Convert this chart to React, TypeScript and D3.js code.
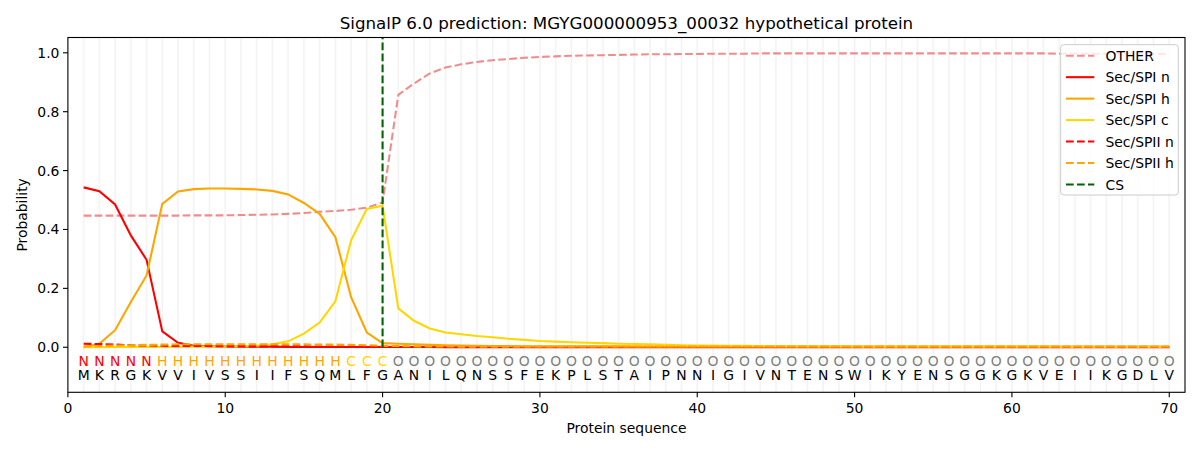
import * as d3 from 'd3';

const title = 'SignalP 6.0 prediction: MGYG000000953_00032 hypothetical protein';
const sequence = 'MKRGKVVIVSSIIFSQMLFGANILQNSSFEKPLSTAIPNNIGIVNTENSWIKYENSGGKGKVEIIKGDLV'.split('');
const regionLabels = 'NNNNNHHHHHHHHHHHHCCCOOOOOOOOOOOOOOOOOOOOOOOOOOOOOOOOOOOOOOOOOOOOOOOOOO'.split('');
const xTicks = [0, 10, 20, 30, 40, 50, 60, 70];
const yTicks = [0, 0.2, 0.4, 0.6, 0.8, 1.0];
const csPosition = 20;

const other = [
  0.447, 0.447, 0.447, 0.447, 0.447, 0.447, 0.447, 0.448, 0.448, 0.448,
  0.449, 0.450, 0.451, 0.453, 0.456, 0.460, 0.463, 0.467, 0.474, 0.492,
  0.857, 0.896, 0.930, 0.950, 0.961, 0.969, 0.975, 0.979, 0.983, 0.986,
  0.988, 0.990, 0.991, 0.992, 0.993, 0.994, 0.995, 0.995, 0.996, 0.996,
  0.997, 0.997, 0.997, 0.998, 0.998, 0.998, 0.998, 0.998, 0.998, 0.998,
  0.998, 0.998, 0.998, 0.998, 0.998, 0.998, 0.998, 0.998, 0.998, 0.998,
  0.998, 0.998, 0.997, 0.997, 0.997, 0.997, 0.997, 0.997, 0.996, 0.996,
];
const spiN = [
  0.543, 0.530, 0.485, 0.380, 0.297, 0.054, 0.015, 0.005, 0.003, 0.002,
  0.002, 0.002, 0.002, 0.001, 0.001, 0.001, 0.001, 0.001, 0.001, 0.001,
  0.001, 0.001, 0.001, 0.000, 0.000, 0.000, 0.000, 0.000, 0.000, 0.000,
  0.000, 0.000, 0.000, 0.000, 0.000, 0.000, 0.000, 0.000, 0.000, 0.000,
  0.000, 0.000, 0.000, 0.000, 0.000, 0.000, 0.000, 0.000, 0.000, 0.000,
  0.000, 0.000, 0.000, 0.000, 0.000, 0.000, 0.000, 0.000, 0.000, 0.000,
  0.000, 0.000, 0.000, 0.000, 0.000, 0.000, 0.000, 0.000, 0.000, 0.000,
];
const spiH = [
  0.000, 0.012, 0.058, 0.154, 0.244, 0.487, 0.529, 0.537, 0.539, 0.539,
  0.538, 0.536, 0.531, 0.519, 0.490, 0.453, 0.374, 0.170, 0.050, 0.014,
  0.012, 0.010, 0.008, 0.007, 0.006, 0.005, 0.004, 0.004, 0.003, 0.003,
  0.003, 0.003, 0.003, 0.003, 0.003, 0.002, 0.002, 0.002, 0.002, 0.002,
  0.002, 0.002, 0.002, 0.002, 0.002, 0.002, 0.002, 0.002, 0.002, 0.002,
  0.002, 0.002, 0.002, 0.002, 0.002, 0.002, 0.002, 0.002, 0.002, 0.002,
  0.002, 0.002, 0.002, 0.002, 0.002, 0.002, 0.002, 0.002, 0.002, 0.002,
];
const spiC = [
  0.000, 0.000, 0.001, 0.001, 0.001, 0.001, 0.001, 0.002, 0.002, 0.002,
  0.003, 0.005, 0.010, 0.020, 0.046, 0.084, 0.156, 0.363, 0.470, 0.481,
  0.132, 0.090, 0.064, 0.050, 0.044, 0.038, 0.034, 0.029, 0.025, 0.021,
  0.019, 0.017, 0.015, 0.014, 0.012, 0.011, 0.010, 0.008, 0.007, 0.006,
  0.006, 0.005, 0.005, 0.004, 0.004, 0.003, 0.003, 0.003, 0.003, 0.002,
  0.002, 0.002, 0.002, 0.002, 0.002, 0.002, 0.002, 0.002, 0.002, 0.002,
  0.002, 0.002, 0.001, 0.001, 0.001, 0.001, 0.001, 0.001, 0.001, 0.001,
];
const spiiN = [
  0.012, 0.011, 0.009, 0.007, 0.006, 0.005, 0.004, 0.004, 0.004, 0.003,
  0.003, 0.003, 0.003, 0.003, 0.003, 0.002, 0.002, 0.002, 0.002, 0.002,
  0.001, 0.001, 0.001, 0.001, 0.001, 0.001, 0.001, 0.001, 0.001, 0.001,
  0.001, 0.001, 0.001, 0.001, 0.001, 0.001, 0.001, 0.001, 0.001, 0.001,
  0.001, 0.001, 0.001, 0.001, 0.001, 0.001, 0.001, 0.001, 0.001, 0.001,
  0.001, 0.001, 0.001, 0.001, 0.001, 0.001, 0.001, 0.001, 0.001, 0.001,
  0.001, 0.001, 0.001, 0.001, 0.001, 0.001, 0.001, 0.001, 0.001, 0.001,
];
const spiiH = [
  0.003, 0.004, 0.006, 0.007, 0.008, 0.009, 0.010, 0.010, 0.010, 0.010,
  0.010, 0.010, 0.010, 0.010, 0.010, 0.009, 0.009, 0.008, 0.007, 0.005,
  0.004, 0.003, 0.003, 0.003, 0.002, 0.002, 0.002, 0.002, 0.002, 0.002,
  0.002, 0.002, 0.002, 0.002, 0.002, 0.002, 0.002, 0.002, 0.002, 0.002,
  0.002, 0.002, 0.002, 0.002, 0.002, 0.002, 0.002, 0.002, 0.002, 0.002,
  0.002, 0.002, 0.002, 0.002, 0.002, 0.002, 0.002, 0.002, 0.002, 0.002,
  0.002, 0.002, 0.002, 0.002, 0.002, 0.002, 0.002, 0.002, 0.002, 0.002,
];

type Series = { name: string; values: number[]; color: string; dashed: boolean; opacity?: number };

const series: Series[] = [
  { name: 'OTHER', values: other, color: '#f08080', dashed: true, opacity: 0.9 },
  { name: 'Sec/SPI n', values: spiN, color: '#ff0000', dashed: false },
  { name: 'Sec/SPI h', values: spiH, color: '#ffa500', dashed: false },
  { name: 'Sec/SPI c', values: spiC, color: '#ffd700', dashed: false },
  { name: 'Sec/SPII n', values: spiiN, color: '#ff0000', dashed: true },
  { name: 'Sec/SPII h', values: spiiH, color: '#ffa500', dashed: true },
];

const labelColor: Record<string, string> = {
  N: '#ff0000',
  H: '#ffa500',
  C: '#ffd700',
  O: '#808080',
};

const font = '"DejaVu Sans", sans-serif';
const lw = 2.08;
const dash = '7.7,3.3';

export default function App() {
  const width = 1200;
  const height = 450;
  const left = 67.9;
  const right = 1185;
  const top = 37.5;
  const bottom = 392.3;

  const x = d3.scaleLinear().domain([0, 71]).range([left, right]);
  const y = d3.scaleLinear().domain([-0.153, 1.052]).range([bottom, top]);
  const positions = sequence.map((_, i) => i + 1);

  const line = d3
    .line<number>()
    .x((_, i) => x(positions[i]))
    .y((d) => y(d));

  const legendItems = [...series, { name: 'CS', color: '#006400', dashed: true } as Series];

  return (
    <svg
      width={width}
      height={height}
      style={{ position: 'absolute', left: 0, top: 0, background: '#fff' }}
      fontFamily={font}
    >
      <rect x={0} y={0} width={width} height={height} fill="#fff" />

      {/* per-residue grid */}
      {positions.map((p) => (
        <line key={p} x1={x(p)} x2={x(p)} y1={top} y2={bottom} stroke="#000" strokeOpacity={0.045} strokeWidth={1.8} />
      ))}

      {/* probability curves */}
      {series.map((s) => (
        <path
          key={s.name}
          d={line(s.values) ?? ''}
          fill="none"
          stroke={s.color}
          strokeOpacity={s.opacity ?? 1}
          strokeWidth={lw}
          strokeDasharray={s.dashed ? dash : undefined}
        />
      ))}

      {/* cleavage site */}
      <line
        x1={x(csPosition)}
        x2={x(csPosition)}
        y1={y(0)}
        y2={top}
        stroke="#006400"
        strokeWidth={lw}
        strokeDasharray={dash}
      />

      {/* sequence annotation */}
      {positions.map((p, i) => (
        <g key={p} fontSize={13.9} textAnchor="middle" dominantBaseline="central">
          <text x={x(p)} y={y(-0.047)} fill={labelColor[regionLabels[i]]}>
            {regionLabels[i]}
          </text>
          <text x={x(p)} y={y(-0.094)} fill="#000">
            {sequence[i]}
          </text>
        </g>
      ))}

      {/* axes frame */}
      <rect x={left} y={top} width={right - left} height={bottom - top} fill="none" stroke="#000" strokeWidth={1.1} />

      {xTicks.map((t) => (
        <g key={t}>
          <line x1={x(t)} x2={x(t)} y1={bottom} y2={bottom + 4.9} stroke="#000" strokeWidth={1.1} />
          <text x={x(t)} y={bottom + 16} fontSize={13.9} textAnchor="middle" dominantBaseline="central">
            {t}
          </text>
        </g>
      ))}
      {yTicks.map((t) => (
        <g key={t}>
          <line x1={left - 4.9} x2={left} y1={y(t)} y2={y(t)} stroke="#000" strokeWidth={1.1} />
          <text x={left - 8.5} y={y(t)} fontSize={13.9} textAnchor="end" dominantBaseline="central">
            {t.toFixed(1)}
          </text>
        </g>
      ))}

      <text x={(left + right) / 2} y={428} fontSize={13.9} textAnchor="middle" dominantBaseline="central">
        Protein sequence
      </text>
      <text
        transform={`translate(22,${(top + bottom) / 2}) rotate(-90)`}
        fontSize={13.9}
        textAnchor="middle"
        dominantBaseline="central"
      >
        Probability
      </text>
      <text x={(left + right) / 2} y={23} fontSize={16.7} textAnchor="middle" dominantBaseline="central">
        {title}
      </text>

      {/* legend */}
      <rect x={1060.7} y={44.7} width={117.6} height={150.3} rx={3} fill="#fff" fillOpacity={0.8} stroke="#cccccc" strokeWidth={1} />
      {legendItems.map((s, i) => {
        const ly = 55.7 + i * 21.47;
        return (
          <g key={s.name}>
            <line
              x1={1066}
              x2={1094.3}
              y1={ly}
              y2={ly}
              stroke={s.color}
              strokeOpacity={s.opacity ?? 1}
              strokeWidth={lw}
              strokeDasharray={s.dashed ? dash : undefined}
            />
            <text x={1105.5} y={ly} fontSize={13.9} dominantBaseline="central">
              {s.name}
            </text>
          </g>
        );
      })}
    </svg>
  );
}
